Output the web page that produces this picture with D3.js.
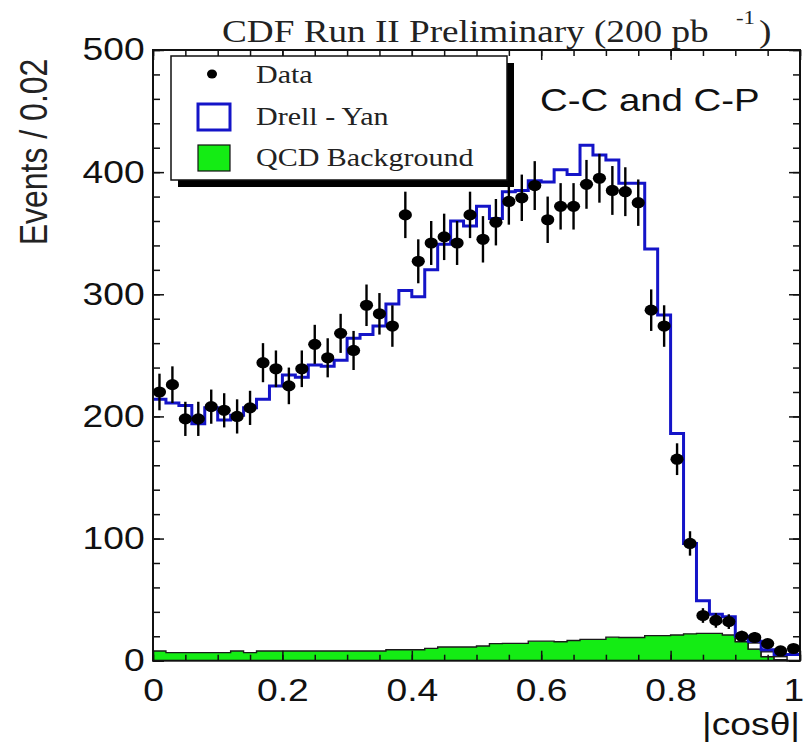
<!DOCTYPE html>
<html>
<head>
<meta charset="utf-8">
<script src="https://cdn.jsdelivr.net/npm/d3@7"></script>
<style>
  html, body { margin: 0; padding: 0; background: #fff; }
  svg { display: block; }
</style>
</head>
<body>
<svg id="chart" width="805" height="745"></svg>
<script>
// |cos(theta)| distribution, 50 bins of width 0.02
const binEdgesLow = d3.range(50).map(i => i / 50);
const binWidth = 0.02;

// Observed events per bin
const dataCounts = [220, 226, 198, 198, 208, 205, 200, 207, 244, 239,
                    225, 239, 259, 248, 268, 254, 291, 284, 274, 365,
                    327, 342, 347, 342, 365, 345, 359, 376, 379, 389,
                    361, 372, 372, 390, 395, 385, 384, 375, 287, 274,
                    165, 96, 37, 33, 32, 20, 19, 14, 8, 10];
// Statistical uncertainty on each data point
const dataErrors = [15, 15, 14, 14, 14, 14, 14, 14, 16, 15,
                    15, 15, 16, 16, 16, 16, 17, 17, 17, 19,
                    18, 18, 19, 18, 19, 19, 19, 19, 19, 20,
                    19, 19, 19, 20, 20, 20, 20, 19, 17, 17,
                    13, 10, 6, 6, 6, 4.5, 4.4, 3.7, 2.9, 3.2];
// Drell-Yan prediction
const drellYan = [214, 211, 209, 194, 207, 197, 201, 207, 214, 225,
                  234, 232, 242, 241, 246, 264, 267, 274, 292, 303,
                  298, 320, 341, 360, 356, 372, 362, 384, 385, 393,
                  392, 402, 398, 422, 414, 410, 391, 391, 337, 283,
                  186, 96, 49, 38, 36, 20, 16, 9, 5, 5];
// QCD background (filled)
const qcdBackground = [8, 6.6, 6.6, 6.6, 6.6, 6.6, 8, 6.6, 7.9, 7.9,
                       7.9, 7.9, 7.9, 7.9, 7.9, 7.9, 7.9, 7.9, 9, 9,
                       9, 10.1, 11.2, 11.2, 11.2, 12, 14, 14.2, 14.2, 16,
                       16, 15.5, 16.5, 17.5, 17.5, 19.3, 19, 19, 20.5, 20.5,
                       21, 22, 22.4, 22.4, 21, 15.6, 9.5, 3.3, 0.8, 0];
// Small extra background stacked on top of QCD (outline only)
const otherBackground = [0, 0, 0, 0, 0, 0, 0, 0, 0, 0,
                         0, 0, 0, 0, 0, 0, 0, 0, 0, 0,
                         0, 0, 0, 0, 0, 0, 0, 0, 0, 0,
                         0, 0, 0, 0, 0, 0, 0, 0, 0, 0,
                         0, 0, 0, 0, 0, 3, 5, 4, 2.5, 0];

const xMajorTicks = [0, 0.2, 0.4, 0.6, 0.8, 1];
const xTickLabels = ["0", "0.2", "0.4", "0.6", "0.8", "1"];
const xMinorTicks = d3.range(0, 1.0001, 0.05);
const yMajorTicks = [0, 100, 200, 300, 400, 500];
const yTickLabels = ["0", "100", "200", "300", "400", "500"];
const yMinorTicks = d3.range(0, 500.1, 20);

const legendLabels = ["Data", "Drell - Yan", "QCD Background"];

const svg = d3.select("#chart");
const SX = 1.2; // horizontal glyph stretch used for all text
const sans = "'Liberation Sans', Arial, Helvetica, sans-serif";
const serif = "'Liberation Serif', 'Times New Roman', serif";

const x = d3.scaleLinear().domain([0, 1]).range([153, 800]);
const y = d3.scaleLinear().domain([0, 500]).range([660.7, 50]);

// step outline helper: points along the top of a histogram
function stepPoints(values) {
  const pts = [];
  values.forEach((v, i) => {
    pts.push([binEdgesLow[i], v]);
    pts.push([binEdgesLow[i] + binWidth, v]);
  });
  return pts;
}

const plot = svg.append("g");

// QCD background: green fill with dark outline
const qcdPts = stepPoints(qcdBackground);
plot.append("path")
  .datum(qcdPts)
  .attr("fill", "#14ec14")
  .attr("stroke", "none")
  .attr("d", d3.area().x(d => x(d[0])).y0(y(0)).y1(d => y(d[1])));
plot.append("path")
  .datum(qcdPts)
  .attr("fill", "none")
  .attr("stroke", "#1a1a1a")
  .attr("stroke-width", 1.4)
  .attr("d", d3.line().x(d => x(d[0])).y(d => y(d[1])));

// extra background stacked on QCD: white boxes with outline
otherBackground.forEach((v, i) => {
  if (v <= 0) return;
  const lo = qcdBackground[i], hi = qcdBackground[i] + v;
  plot.append("rect")
    .attr("x", x(binEdgesLow[i]))
    .attr("y", y(hi))
    .attr("width", x(binEdgesLow[i] + binWidth) - x(binEdgesLow[i]))
    .attr("height", y(lo) - y(hi))
    .attr("fill", "#fff")
    .attr("stroke", "#1a1a1a")
    .attr("stroke-width", 1.4);
});

// Drell-Yan histogram outline
plot.append("path")
  .datum(stepPoints(drellYan))
  .attr("fill", "none")
  .attr("stroke", "#1414c8")
  .attr("stroke-width", 3)
  .attr("stroke-linejoin", "miter")
  .attr("d", d3.line().x(d => x(d[0])).y(d => y(d[1])));

// Axes with inward ticks on all four sides
function styleAxis(g) {
  g.select(".domain").remove();
  g.selectAll(".tick line").attr("stroke", "#111").attr("stroke-width", 1.5);
}
const axes = svg.append("g");
axes.append("g").attr("transform", `translate(0,${y(0)})`)
  .call(d3.axisBottom(x).tickValues(xMinorTicks).tickSize(-6).tickFormat(""))
  .call(styleAxis);
axes.append("g").attr("transform", `translate(0,${y(500)})`)
  .call(d3.axisTop(x).tickValues(xMinorTicks).tickSize(-6).tickFormat(""))
  .call(styleAxis);
axes.append("g").attr("transform", `translate(0,${y(500)})`)
  .call(d3.axisTop(x).tickValues(xMajorTicks).tickSize(-10).tickFormat(""))
  .call(styleAxis);
axes.append("g").attr("transform", `translate(${x(0)},0)`)
  .call(d3.axisLeft(y).tickValues(yMinorTicks).tickSize(-7).tickFormat(""))
  .call(styleAxis);
axes.append("g").attr("transform", `translate(${x(1)},0)`)
  .call(d3.axisRight(y).tickValues(yMinorTicks).tickSize(-7).tickFormat(""))
  .call(styleAxis);
axes.append("g").attr("transform", `translate(${x(1)},0)`)
  .call(d3.axisRight(y).tickValues(yMajorTicks).tickSize(-11).tickFormat(""))
  .call(styleAxis);

const xAxisG = axes.append("g").attr("transform", `translate(0,${y(0)})`)
  .call(d3.axisBottom(x).tickValues(xMajorTicks).tickSize(-10).tickPadding(18)
        .tickFormat((d, i) => xTickLabels[i]))
  .call(styleAxis);
xAxisG.selectAll(".tick text")
  .attr("font-family", sans).attr("font-size", 31).attr("fill", "#111")
  .attr("transform", `scale(${SX},1)`);
// last label sits against the right edge of the canvas
xAxisG.selectAll(".tick text").filter(d => d === 1)
  .attr("text-anchor", "end").attr("x", 3);

const yAxisG = axes.append("g").attr("transform", `translate(${x(0)},0)`)
  .call(d3.axisLeft(y).tickValues(yMajorTicks).tickSize(-11).tickPadding(7)
        .tickFormat((d, i) => yTickLabels[i]))
  .call(styleAxis);
yAxisG.selectAll(".tick text")
  .attr("font-family", sans).attr("font-size", 31).attr("fill", "#111")
  .attr("transform", `scale(${SX},1)`);

// frame
svg.append("rect")
  .attr("x", x(0)).attr("y", y(500))
  .attr("width", x(1) - x(0)).attr("height", y(0) - y(500))
  .attr("fill", "none").attr("stroke", "#111").attr("stroke-width", 2);

// Data points with vertical error bars
const pts = svg.append("g");
dataCounts.forEach((n, i) => {
  const cx = x(binEdgesLow[i] + binWidth / 2);
  pts.append("line")
    .attr("x1", cx).attr("x2", cx)
    .attr("y1", y(n - dataErrors[i])).attr("y2", y(n + dataErrors[i]))
    .attr("stroke", "#000").attr("stroke-width", 2.4);
  pts.append("ellipse")
    .attr("cx", cx).attr("cy", y(n))
    .attr("rx", 6.6).attr("ry", 5.6)
    .attr("fill", "#000");
});

// stretched text helper
function label(tx, ty, str, opts) {
  const g = svg.append("g").attr("transform", `translate(${tx},${ty}) scale(${SX},1)` + (opts.rotate ? ` rotate(${opts.rotate})` : ""));
  g.append("text")
    .attr("font-family", opts.family)
    .attr("font-size", opts.size)
    .attr("text-anchor", opts.anchor || "start")
    .attr("fill", opts.color || "#111")
    .text(str);
  return g;
}

// Title
label(222, 42, "CDF Run II Preliminary (200 pb", { family: serif, size: 31, color: "#222" });
label(736, 24, "-1", { family: serif, size: 19, color: "#222" });
label(759, 42, ")", { family: serif, size: 31, color: "#222" });

// Selection tag
label(540, 111, "C-C and C-P", { family: sans, size: 32, color: "#111" });

// Axis titles
label(800, 735, "|cosθ|", { family: sans, size: 31, anchor: "end", color: "#111" });
label(47, 152, "Events / 0.02", { family: sans, size: 32, anchor: "middle", rotate: -90, color: "#222" });

// Legend with drop shadow
const leg = svg.append("g");
leg.append("rect").attr("x", 178).attr("y", 63).attr("width", 336).attr("height", 124).attr("fill", "#000");
leg.append("rect").attr("x", 171).attr("y", 56).attr("width", 336).attr("height", 124)
  .attr("fill", "#fff").attr("stroke", "#111").attr("stroke-width", 1.5);
leg.append("ellipse").attr("cx", 212).attr("cy", 74).attr("rx", 5).attr("ry", 4.5).attr("fill", "#000");
leg.append("rect").attr("x", 198).attr("y", 104).attr("width", 32).attr("height", 26)
  .attr("fill", "#fff").attr("stroke", "#1414c8").attr("stroke-width", 3);
leg.append("rect").attr("x", 198).attr("y", 145).attr("width", 32).attr("height", 26)
  .attr("fill", "#14ec14").attr("stroke", "#111").attr("stroke-width", 1.2);
const legendY = [83, 125, 166];
legendLabels.forEach((t, i) => {
  label(256, legendY[i], t, { family: serif, size: 25, color: "#222" });
});
</script>
</body>
</html>
